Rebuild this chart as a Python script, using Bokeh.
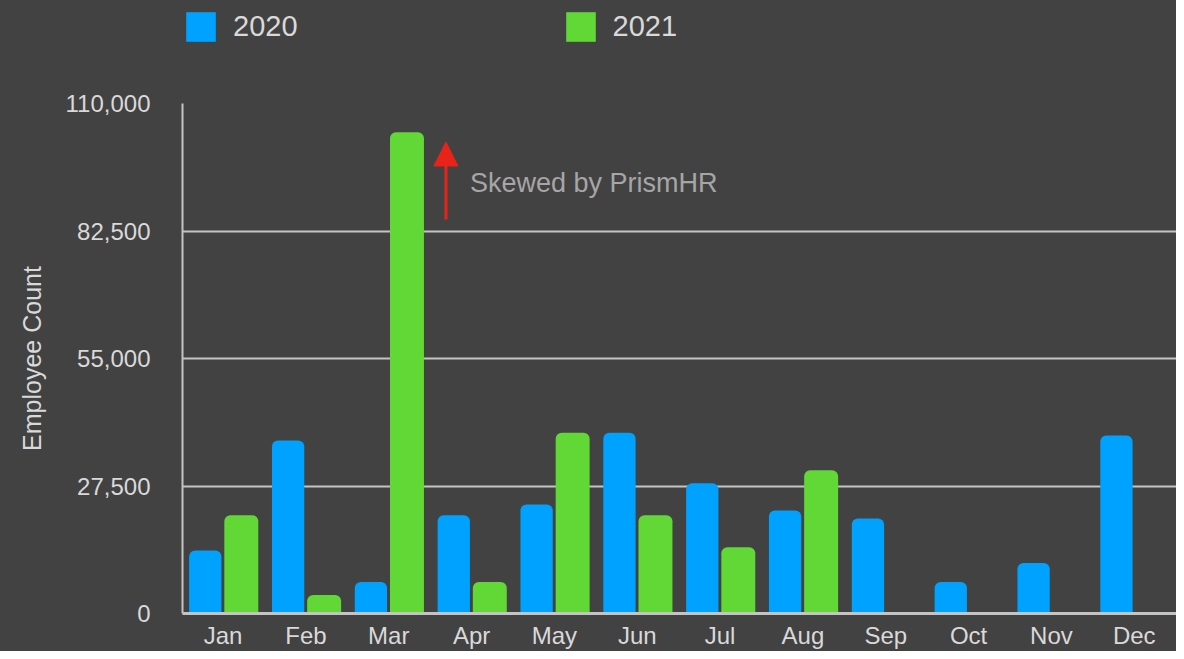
from bokeh.plotting import figure
from bokeh.layouts import column
from bokeh.models import (Range1d, FixedTicker, NumeralTickFormatter, Legend, LegendItem,
                          Arrow, NormalHead, Label, ColumnDataSource)
from bokeh.embed import file_html
from bokeh.resources import INLINE
import numpy as np

months = ["Jan", "Feb", "Mar", "Apr", "May", "Jun", "Jul", "Aug", "Sep", "Oct", "Nov", "Dec"]
count_2020 = [13600, 37300, 6800, 21200, 23500, 39000, 28100, 22200, 20500, 6800, 10900, 38400]
count_2021 = [21200, 4000, 103800, 6800, 39000, 21200, 14300, 30900]
series_names = ["2020", "2021"]
y_ticks = [0, 27500, 55000, 82500, 110000]
note_text = "Skewed by PrismHR"

BG = "#424242"
BLUE = "#00A2FF"
GREEN = "#61D836"
AXIS = "#c4c4c4"
TXT = "#d9d9d9"
FONT = "Liberation Sans"
W = 1176
LEG_H = 80

# ---- legend strip on top ----
leg = figure(width=W, height=LEG_H, output_backend="svg", toolbar_location=None,
             x_range=Range1d(0, 1), y_range=Range1d(0, 1),
             x_axis_location=None, y_axis_location=None,
             min_border_left=0, min_border_right=0, min_border_top=0, min_border_bottom=0)
leg.background_fill_color = BG
leg.border_fill_color = BG
leg.outline_line_color = None
leg.xgrid.grid_line_color = None
leg.ygrid.grid_line_color = None
# swatch-only renderers: their single bar lies below the strip's visible range
lr20 = leg.vbar(x=[0.5], top=[-2], bottom=[-3], width=0.01, fill_color=BLUE, line_color=None)
lr21 = leg.vbar(x=[0.5], top=[-2], bottom=[-3], width=0.01, fill_color=GREEN, line_color=None)
legend = Legend(items=[LegendItem(label=series_names[0], renderers=[lr20]),
                       LegendItem(label=series_names[1], renderers=[lr21])],
                orientation="horizontal", location=(0, 35),
                glyph_width=37, glyph_height=37, label_standoff=14, spacing=264,
                label_text_font=FONT, label_text_font_size="29px", label_text_color=TXT,
                background_fill_alpha=0, border_line_color=None, padding=0, margin=0)
leg.add_layout(legend)

# ---- main chart ----
p = figure(width=W, height=651 - LEG_H, output_backend="svg", toolbar_location=None,
           x_range=Range1d(0, 12), y_range=Range1d(0, 110000),
           min_border_left=182, min_border_right=0, min_border_top=23, min_border_bottom=38)
p.background_fill_color = BG
p.border_fill_color = BG
p.outline_line_color = None

centers = np.arange(len(months)) + 0.49
src20 = ColumnDataSource(dict(x=centers[:len(count_2020)] - 0.215, top=count_2020))
src21 = ColumnDataSource(dict(x=centers[:len(count_2021)] + 0.22, top=count_2021))
p.vbar(x="x", top="top", width=0.39, source=src20, fill_color=BLUE, line_color=None,
       border_radius=(6, 6, 0, 0))
p.vbar(x="x", top="top", width=0.41, source=src21, fill_color=GREEN, line_color=None,
       border_radius=(6, 6, 0, 0))

p.xaxis.ticker = FixedTicker(ticks=list(centers))
p.xaxis.major_label_overrides = {float(c): m for c, m in zip(centers, months)}
p.xaxis.major_tick_line_color = None
p.xaxis.major_tick_out = 0
p.xaxis.major_tick_in = 0
p.xaxis.minor_tick_line_color = None
p.xaxis.axis_line_color = AXIS
p.xaxis.axis_line_width = 3
p.xaxis.major_label_text_font = FONT
p.xaxis.major_label_text_font_size = "24px"
p.xaxis.major_label_text_color = TXT
p.xaxis.major_label_standoff = 8

p.yaxis.ticker = FixedTicker(ticks=y_ticks)
p.yaxis.formatter = NumeralTickFormatter(format="0,0")
p.yaxis.major_tick_line_color = None
p.yaxis.major_tick_out = 0
p.yaxis.major_tick_in = 0
p.yaxis.minor_tick_line_color = None
p.yaxis.axis_line_color = AXIS
p.yaxis.axis_line_width = 2
p.yaxis.major_label_text_font = FONT
p.yaxis.major_label_text_font_size = "24px"
p.yaxis.major_label_text_color = TXT
p.yaxis.major_label_standoff = 32
p.yaxis.axis_label = "Employee Count"
p.yaxis.axis_label_text_font = FONT
p.yaxis.axis_label_text_font_size = "25px"
p.yaxis.axis_label_text_font_style = "normal"
p.yaxis.axis_label_text_color = TXT
p.yaxis.axis_label_standoff = 17

p.xgrid.grid_line_color = None
p.ygrid.grid_line_color = AXIS
p.ygrid.grid_line_width = 2

p.add_layout(Arrow(end=NormalHead(size=24, fill_color="#e8231a", line_color="#e8231a"),
                   x_start=3.18, y_start=85000, x_end=3.18, y_end=101700,
                   line_color="#e8231a", line_width=3))
p.add_layout(Label(x=3.47, y=92900, text=note_text, text_font=FONT, text_font_size="27px",
                   text_color="#a6a6a6", text_baseline="middle"))

layout = column(leg, p, spacing=0)
layout.styles = {"background-color": BG}

open("out.html", "w").write(file_html(layout, INLINE))
